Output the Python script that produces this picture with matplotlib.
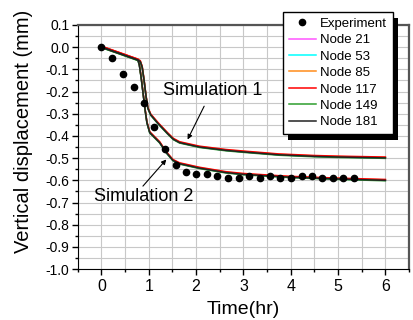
import matplotlib
matplotlib.use("Agg")
import matplotlib.pyplot as plt
import matplotlib.patheffects as pe
from matplotlib.ticker import MultipleLocator

# experiment
exp_t = [0.0, 0.22, 0.46, 0.68, 0.90, 1.12, 1.35, 1.57, 1.79, 2.00, 2.23, 2.45,
         2.67, 2.90, 3.12, 3.34, 3.56, 3.78, 4.00, 4.23, 4.45, 4.67, 4.89, 5.11, 5.34]
exp_d = [0.0, -0.05, -0.12, -0.18, -0.25, -0.36, -0.46, -0.53, -0.562, -0.572, -0.572, -0.58,
         -0.59, -0.59, -0.58, -0.59, -0.58, -0.59, -0.59, -0.58, -0.58, -0.59, -0.59, -0.59, -0.59]

# simulation 1 (upper curve)
sim1_t = [0.0, 0.4, 0.77, 0.82, 0.86, 0.90, 0.94, 0.98, 1.04, 1.2, 1.4, 1.52, 1.65,
          2.07, 2.63, 3.0, 3.75, 4.5, 5.0, 6.0]
sim1_d = [0.0, -0.03, -0.058, -0.065, -0.09, -0.15, -0.22, -0.275, -0.305, -0.345, -0.39, -0.415, -0.43,
          -0.45, -0.465, -0.472, -0.485, -0.492, -0.495, -0.499]

# simulation 2 (lower curve)
sim2_t = [0.0, 0.4, 0.77, 0.80, 0.84, 0.88, 0.92, 0.96, 1.02, 1.23, 1.37, 1.51, 1.65,
          2.07, 2.63, 3.0, 3.75, 4.0, 5.0, 6.0]
sim2_d = [0.0, -0.03, -0.058, -0.08, -0.14, -0.21, -0.28, -0.34, -0.385, -0.43, -0.475, -0.51, -0.525,
          -0.545, -0.565, -0.573, -0.583, -0.586, -0.594, -0.60]

nodes = ["Node 21", "Node 53", "Node 85", "Node 117", "Node 149", "Node 181"]
node_colors = ["#ff55ff", "#00ffff", "#ff8c1a", "#ff0000", "#2e9e2e", "#222222"]
node_shift = [0.0, 0.0, 0.002, 0.004, -0.002, 0.0]

plt.rcParams["font.family"] = ["Liberation Sans", "DejaVu Sans"]

fig = plt.figure(figsize=(4.14, 3.2), dpi=100)
ax = fig.add_axes([0.188, 0.159, 0.800, 0.763])

ax.plot(exp_t, exp_d, "o", color="black", markersize=4.5, label="Experiment", zorder=5)
for name, col, dy in zip(nodes, node_colors, node_shift):
    ax.plot(sim1_t, [v + dy for v in sim1_d], color=col, lw=1.1, label=name)
    ax.plot(sim2_t, [v + dy for v in sim2_d], color=col, lw=1.1)

ax.set_xlim(-0.5, 6.5)
ax.set_ylim(-1.0, 0.1)
ax.xaxis.set_minor_locator(MultipleLocator(0.5))
ax.yaxis.set_minor_locator(MultipleLocator(0.05))
ax.set_xticks([0, 1, 2, 3, 4, 5, 6])
yt = [round(-1.0 + 0.1 * i, 1) for i in range(12)]
ax.set_yticks(yt)
ax.set_yticklabels(["%.1f" % v if v != 0 else "0.0" for v in yt])
ax.grid(which="both", color="#c8c8c8", lw=0.8)
ax.set_axisbelow(True)
ax.tick_params(which="major", direction="out", length=4, width=1)
ax.tick_params(axis="x", which="major", labelsize=11.5, pad=3)
ax.tick_params(axis="y", which="major", labelsize=10, pad=2)
ax.tick_params(which="minor", direction="out", length=2.5, width=1)
for s in ["top", "right"]:
    ax.spines[s].set_color("#555555")
    ax.spines[s].set_linewidth(1.6)

ax.set_xlabel("Time(hr)", fontsize=14, labelpad=5)
ax.set_ylabel("Vertical displacement (mm)", fontsize=14.5)
ax.yaxis.set_label_coords(-0.136, 0.566)

arrow = dict(arrowstyle="-|>", color="black", lw=0.8, shrinkA=0, shrinkB=0, mutation_scale=7)
ax.text(2.34, -0.195, "Simulation 1", fontsize=13, ha="center", va="center")
ax.annotate("", xy=(1.82, -0.416), xytext=(2.17, -0.266), arrowprops=arrow)
ax.text(0.9, -0.672, "Simulation 2", fontsize=13, ha="center", va="center")
ax.annotate("", xy=(1.37, -0.506), xytext=(0.876, -0.626), arrowprops=arrow)

leg = ax.legend(loc="upper right", bbox_to_anchor=(0.952, 1.055), fontsize=9.5, frameon=True,
                fancybox=False, edgecolor="black", framealpha=1.0,
                handlelength=2.0, labelspacing=0.32, borderpad=0.45, handletextpad=0.35,
                borderaxespad=0.0)
frame = leg.get_frame()
frame.set_linewidth(1.0)
frame.set_path_effects([
    pe.SimplePatchShadow(offset=(3.6, -4.3), shadow_rgbFace="black", alpha=1.0, rho=0),
    pe.Normal(),
])
leg.set_zorder(10)

fig.savefig("out.png", dpi=100)
